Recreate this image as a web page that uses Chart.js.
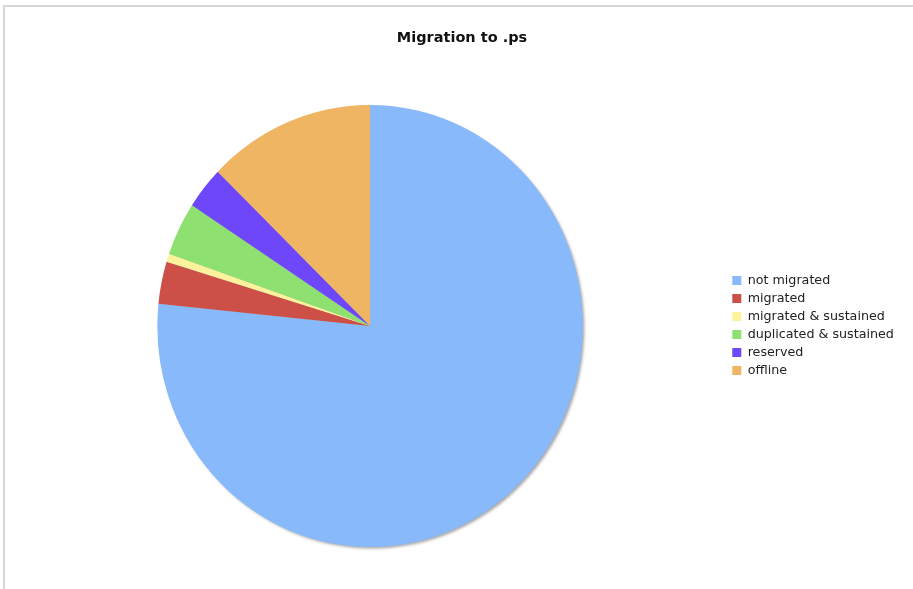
<!DOCTYPE html>
<html>
<head>
<meta charset="utf-8">
<script src="https://cdn.jsdelivr.net/npm/chart.js@4/dist/chart.umd.min.js"></script>
<style>
  html, body { margin: 0; padding: 0; background: #fff; }
  #wrap { position: relative; width: 913px; height: 589px; }
</style>
</head>
<body>
<div id="wrap"><canvas id="c" width="913" height="589"></canvas></div>
<script>
const categories = ["not migrated", "migrated", "migrated & sustained", "duplicated & sustained", "reserved", "offline"];
const shares = [76.6, 3.1, 0.6, 3.9, 3.1, 12.7];
const sliceColors = ["#88b9fb", "#cc5048", "#fdf29c", "#8ee070", "#6f47fa", "#f0b562"];
const chartTitle = "Migration to .ps";

// The original pie is drawn slightly narrower than tall.
const PIE_SCALE_X = 0.9625;

const placement = {
  id: 'placement',
  afterLayout(chart) {
    const lg = chart.legend;
    if (lg) {
      const w = lg.right - lg.left;
      lg.left = 727; lg.right = 727 + w; lg.width = w;
      lg.top = 268.8; lg.bottom = 589; lg.height = lg.bottom - lg.top;
    }
    const tb = chart.titleBlock;
    if (tb) {
      const mid = (tb.left + tb.right) / 2;
      const d = 462 - mid;
      tb.left += d; tb.right += d;
    }
  },
  beforeDraw(chart) {
    const ctx = chart.ctx;
    ctx.save();
    ctx.strokeStyle = '#d6d6d6';
    ctx.lineWidth = 2;
    ctx.beginPath();
    ctx.moveTo(4, 589);
    ctx.lineTo(4, 6);
    ctx.lineTo(913, 6);
    ctx.stroke();
    ctx.restore();
  },
  beforeDatasetsDraw(chart) {
    const meta = chart.getDatasetMeta(0);
    if (!meta.data.length) return;
    const arc = meta.data[0];
    const ctx = chart.ctx;
    ctx.save();
    ctx.translate(arc.x, arc.y);
    ctx.scale(PIE_SCALE_X, 1);
    ctx.translate(-arc.x, -arc.y);
    ctx.save();
    ctx.shadowColor = 'rgba(0,0,0,0.35)';
    ctx.shadowBlur = 3;
    ctx.shadowOffsetX = 2;
    ctx.shadowOffsetY = 2;
    ctx.fillStyle = '#bbbbbb';
    ctx.beginPath();
    ctx.arc(arc.x, arc.y, arc.outerRadius - 0.5, 0, Math.PI * 2);
    ctx.fill();
    ctx.restore();
  },
  afterDatasetsDraw(chart) {
    chart.ctx.restore();
  }
};

new Chart(document.getElementById('c'), {
  type: 'pie',
  data: {
    labels: categories,
    datasets: [{
      data: shares,
      backgroundColor: sliceColors,
      borderWidth: 0,
      radius: 221
    }]
  },
  options: {
    responsive: false,
    animation: false,
    layout: { padding: { left: 20, right: 16, top: 0, bottom: 46 } },
    plugins: {
      title: {
        display: true,
        text: chartTitle,
        color: '#111',
        font: { family: 'DejaVu Sans', size: 14.5, weight: 'bold' },
        padding: { top: 30, bottom: 61.6 }
      },
      legend: {
        position: 'right',
        align: 'start',
        labels: {
          boxWidth: 9,
          boxHeight: 9,
          padding: 5.3,
          color: '#222',
          font: { family: 'DejaVu Sans', size: 12.7 }
        }
      },
      tooltip: { enabled: false }
    }
  },
  plugins: [placement]
});
</script>
</body>
</html>
